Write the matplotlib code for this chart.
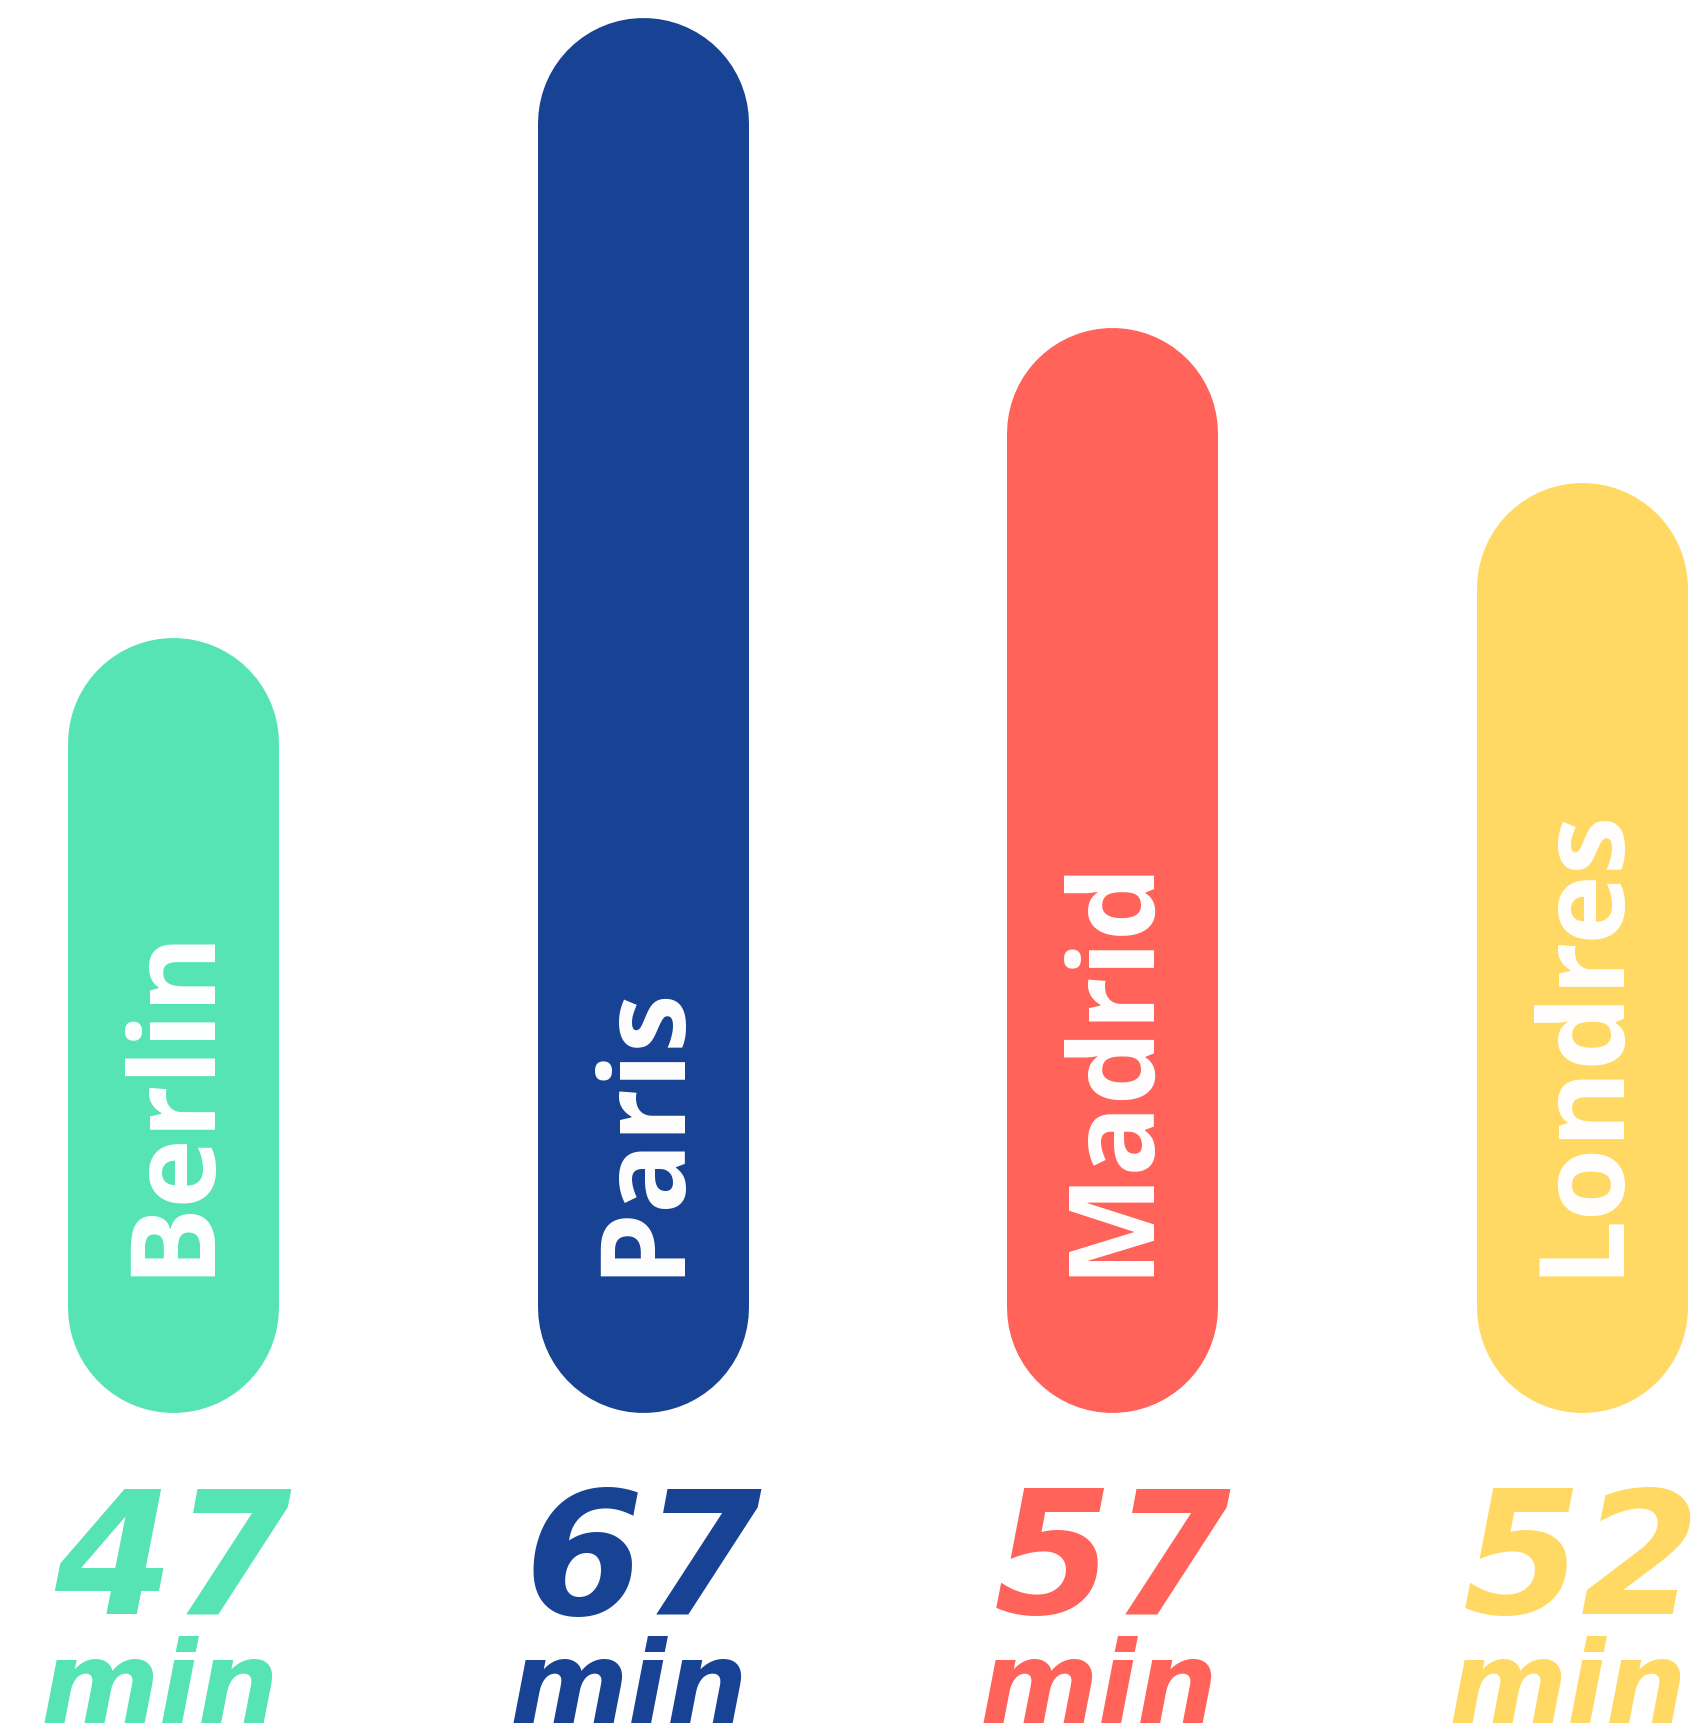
#!/usr/bin/env python
"""Rounded vertical bars: travel time per city"""

import matplotlib
matplotlib.use("Agg")
import matplotlib.pyplot as plt
from matplotlib import transforms

cities = ["Berlin", "Paris", "Madrid", "Londres"]
minutes = [47, 67, 57, 52]
colors = ["#57E4B5", "#184395", "#FF6359", "#FFD963"]
unit = "min"

BASE = 28.8     # where the bars start on the value axis
DPI = 100


def _main():
    fig = plt.figure(figsize=(17.02, 17.30), dpi=DPI)
    ax = fig.add_axes([0, 0, 1, 1])
    ax.set_xlim(-0.3695, 3.2556)
    ax.set_ylim(15.14, 70.96)
    ax.axis("off")

    bar_lw = 211 * 72.0 / DPI
    name_tr = transforms.offset_copy(ax.transData, fig=fig, x=32, y=31,
                                     units="dots")
    lab_tr = transforms.blended_transform_factory(ax.transData, ax.transAxes)

    for i, (city, val, col) in enumerate(zip(cities, minutes, colors)):
        ax.plot([i, i], [BASE, val], color=col, lw=bar_lw,
                solid_capstyle="round")
        ax.text(i, BASE, city, transform=name_tr, rotation=90,
                rotation_mode="anchor", ha="left", va="baseline",
                color="white", fontsize=85, fontweight="bold",
                family="Open Sans")
        ax.text(i, 0.0671, str(val), transform=lab_tr, ha="center",
                va="baseline", color=col, fontsize=123, fontweight="bold",
                fontstyle="oblique", family="DejaVu Sans")
        ax.text(i - 0.03, 0.004, unit, transform=lab_tr, ha="center",
                va="baseline", color=col, fontsize=82, fontweight="bold",
                fontstyle="oblique", family="DejaVu Sans")

    fig.savefig("out.png", dpi=DPI)
    plt.close(fig)
    return 0


if __name__ == "__main__":
    _main()
